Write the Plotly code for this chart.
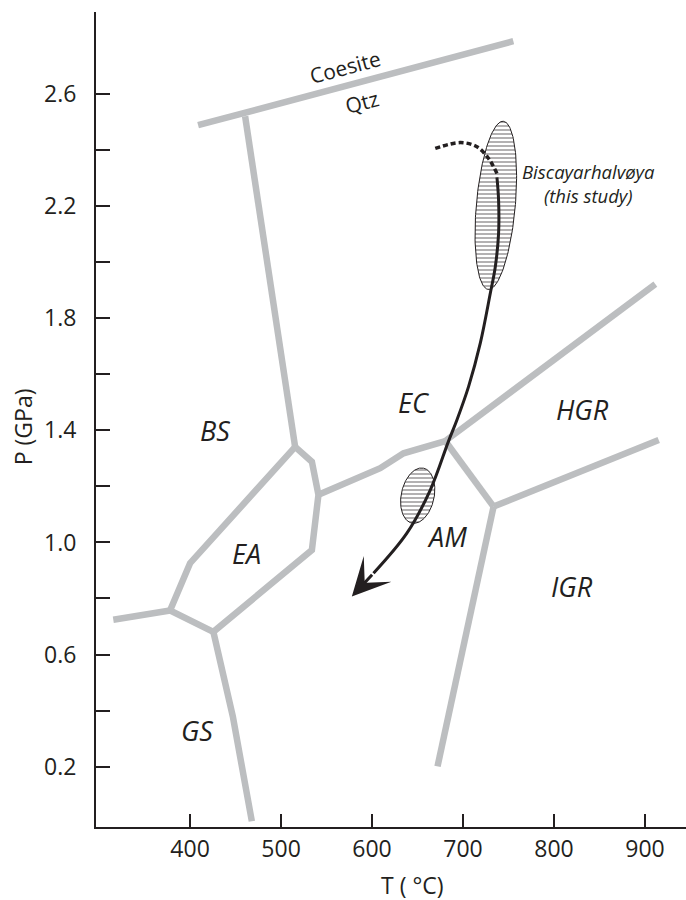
import numpy as np
import plotly.graph_objects as go

# ---------------- data ----------------
x_tick_vals = [400, 500, 600, 700, 800, 900]
x_tick_text = ["400", "500", "600", "700", "800", "900"]
y_tick_vals = [0.2, 0.4, 0.6, 0.8, 1.0, 1.2, 1.4, 1.6, 1.8, 2.0, 2.2, 2.4, 2.6]
y_tick_text = ["0.2", "", "0.6", "", "1.0", "", "1.4", "", "1.8", "", "2.2", "", "2.6"]

# facies boundaries (T in deg C, P in GPa)
coesite_qtz_T = [408.8, 755.3]
coesite_qtz_P = [2.489, 2.789]
bs_ec_T = [460.5, 515.5]
bs_ec_P = [2.521, 1.341]
ea_field_T = [515.5, 533.9, 541.1, 533.9, 425.6, 378.0, 400.0, 515.5]
ea_field_P = [1.341, 1.288, 1.170, 0.973, 0.681, 0.757, 0.926, 1.341]
bs_gs_T = [378.0, 315.6]
bs_gs_P = [0.757, 0.724]
gs_am_T = [425.6, 447.0, 467.9]
gs_am_P = [0.681, 0.379, 0.005]
ec_am_T = [541.1, 609.0, 634.6, 680.5]
ec_am_P = [1.170, 1.265, 1.318, 1.362]
ec_hgr_T = [680.5, 911.4]
ec_hgr_P = [1.362, 1.922]
am_hgr_T = [680.5, 733.6]
am_hgr_P = [1.362, 1.128]
hgr_igr_T = [733.6, 915.1]
hgr_igr_P = [1.128, 1.366]
am_igr_T = [733.6, 672.0]
am_igr_P = [1.128, 0.201]

# P-T path
path_dotted_T = [669.5, 697.0, 715.3, 728.1, 737.3]
path_dotted_P = [2.406, 2.427, 2.412, 2.370, 2.317]
path_solid_T = [737.3, 739.1, 739.1, 735.5, 730.0, 719.0, 706.1, 693.3,
                683.8, 664.0, 638.3, 601.6]
path_solid_P = [2.303, 2.222, 2.103, 1.984, 1.889, 1.711, 1.556, 1.437,
                1.359, 1.187, 1.033, 0.890]
arrow_tip_T = 577.8
arrow_tip_P = 0.807

# P-T estimate ellipses: top point, bottom point, half width (deg C)
big_ell_top = (744.3, 2.503)
big_ell_bottom = (727.8, 1.903)
big_ell_halfwidth = 21.4
small_ell_top = (656.6, 1.265)
small_ell_bottom = (643.8, 1.069)
small_ell_halfwidth = 18.1

# labels
region_names = ["BS", "EA", "GS", "EC", "HGR", "AM", "IGR"]
region_T = [427.2, 462.4, 407.4, 645.6, 830.8, 682.3, 819.8]
region_P = [1.401, 0.962, 0.329, 1.499, 1.476, 1.021, 0.843]

# ---------------- layout constants ----------------
W, H = 686, 900
ML, MR, MT, MB = 96, 0, 12, 73
x_range = [296.6, 945.1]
y_range = [-0.0155, 2.893]
SX = (W - ML - MR) / (x_range[1] - x_range[0])
SY = (H - MT - MB) / (y_range[1] - y_range[0])

INK = "#231f20"
GREY = "#bcbec0"
FONT = "Open Sans"


def ellipse(top, bottom, half_w, n=160):
    u1, v1 = top[0] * SX, top[1] * SY
    u2, v2 = bottom[0] * SX, bottom[1] * SY
    cu, cv = (u1 + u2) / 2, (v1 + v2) / 2
    au, av = (u1 - u2) / 2, (v1 - v2) / 2
    L = np.hypot(au, av)
    bu, bv = -av / L * half_w * SX, au / L * half_w * SX
    t = np.linspace(0, 2 * np.pi, n)
    u = cu + np.cos(t) * au + np.sin(t) * bu
    v = cv + np.cos(t) * av + np.sin(t) * bv
    return u / SX, v / SY


fig = go.Figure()

boundaries = [
    (coesite_qtz_T, coesite_qtz_P),
    (bs_ec_T, bs_ec_P),
    (ea_field_T, ea_field_P),
    (bs_gs_T, bs_gs_P),
    (gs_am_T, gs_am_P),
    (ec_am_T, ec_am_P),
    (ec_hgr_T, ec_hgr_P),
    (am_hgr_T, am_hgr_P),
    (hgr_igr_T, hgr_igr_P),
    (am_igr_T, am_igr_P),
]
for bt, bp in boundaries:
    fig.add_trace(go.Scatter(x=bt, y=bp, mode="lines",
                             line=dict(color=GREY, width=6.5),
                             hoverinfo="skip"))

for top, bot, hw in [(big_ell_top, big_ell_bottom, big_ell_halfwidth),
                     (small_ell_top, small_ell_bottom, small_ell_halfwidth)]:
    ex, ey = ellipse(top, bot, hw)
    fig.add_trace(go.Scatter(
        x=ex, y=ey, mode="lines", fill="toself",
        line=dict(color=INK, width=1),
        fillcolor="white",
        fillpattern=dict(shape="-", size=4, solidity=0.35,
                         fgcolor=INK, bgcolor="white"),
        hoverinfo="skip"))

fig.add_trace(go.Scatter(x=path_dotted_T, y=path_dotted_P, mode="lines",
                         line=dict(color=INK, width=3.5, dash="5px,3px",
                                   shape="spline"),
                         hoverinfo="skip"))
fig.add_trace(go.Scatter(x=path_solid_T, y=path_solid_P, mode="lines",
                         line=dict(color=INK, width=3, shape="spline"),
                         hoverinfo="skip"))

annotations = []
annotations.append(dict(
    x=arrow_tip_T, y=arrow_tip_P, ax=path_solid_T[-1], ay=path_solid_P[-1],
    xref="x", yref="y", axref="x", ayref="y", text="",
    showarrow=True, arrowhead=3, arrowwidth=3, arrowsize=2.1, arrowcolor=INK))

for name, t, p in zip(region_names, region_T, region_P):
    annotations.append(dict(x=t, y=p, xref="x", yref="y", text=name,
                            showarrow=False,
                            font=dict(family=FONT, size=27, color=INK,
                                      style="italic")))

annotations.append(dict(x=570.5, y=2.697, xref="x", yref="y", text="Coesite",
                        showarrow=False, textangle=-15,
                        font=dict(family=FONT, size=21, color=INK)))
annotations.append(dict(x=588.9, y=2.572, xref="x", yref="y", text="Qtz",
                        showarrow=False, textangle=-15,
                        font=dict(family=FONT, size=21, color=INK)))
annotations.append(dict(x=838.1, y=2.282, xref="x", yref="y",
                        text="Biscayarhalvøya<br>(this study)",
                        showarrow=False,
                        font=dict(family=FONT, size=18.5, color=INK,
                                  style="italic")))

# axis titles
annotations.append(dict(x=644.5, y=-0.071, xref="x", yref="paper",
                        text="T ( °C)", showarrow=False, yanchor="middle",
                        font=dict(family=FONT, size=23, color=INK)))
annotations.append(dict(x=(22.5 - ML) / (W - ML - MR), y=1.413,
                        xref="paper", yref="y", text="P (GPa)",
                        showarrow=False, textangle=-90, xanchor="center",
                        font=dict(family=FONT, size=23, color=INK)))

fig.update_layout(
    width=W, height=H,
    margin=dict(l=ML, r=MR, t=MT, b=MB, pad=0),
    paper_bgcolor="white", plot_bgcolor="white",
    showlegend=False,
    annotations=annotations,
    xaxis=dict(range=x_range, showline=True, linecolor=INK, linewidth=2,
               ticks="inside", ticklen=13, tickwidth=2, tickcolor=INK,
               tickvals=x_tick_vals, ticktext=x_tick_text,
               tickfont=dict(family=FONT, size=23, color=INK),
               ticklabelstandoff=0,
               showgrid=False, zeroline=False),
    yaxis=dict(range=y_range, showline=True, linecolor=INK, linewidth=2,
               ticks="inside", ticklen=14, tickwidth=2, tickcolor=INK,
               tickvals=y_tick_vals, ticktext=y_tick_text,
               tickfont=dict(family=FONT, size=23, color=INK),
               ticklabelstandoff=13,
               showgrid=False, zeroline=False),
)

fig.write_html("out.html",
               config={"displayModeBar": False},
               post_script="document.body.style.margin='0';"
                           "document.body.style.overflow='hidden';")
